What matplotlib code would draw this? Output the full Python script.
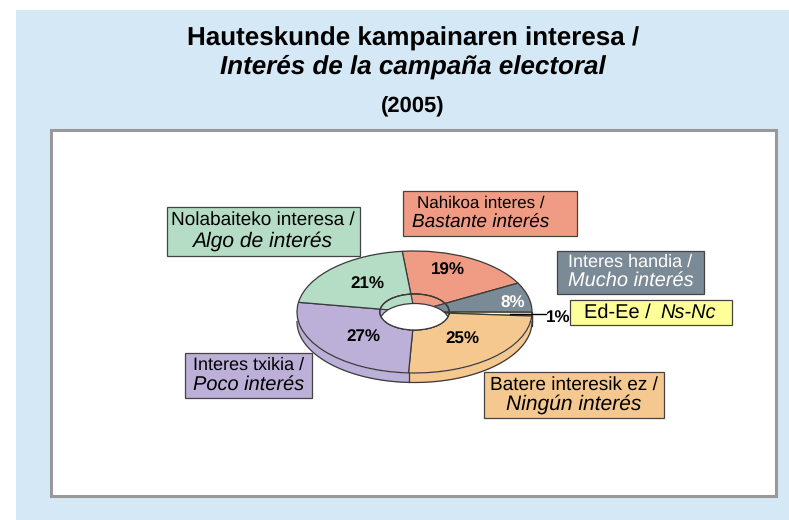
import numpy as np
import matplotlib
matplotlib.use("Agg")
import matplotlib.pyplot as plt
from matplotlib.patches import Circle, Rectangle

plt.rcParams["font.family"] = ["Liberation Sans", "DejaVu Sans"]
plt.rcParams["text.hinting"] = "none"
plt.rcParams["text.hinting_factor"] = 1

# values clockwise from the top of the ring
values = [19, 8, 1, 25, 27, 21]
colors = ["#F09C84", "#7A8A97", "#FFFF99", "#F5C88F", "#BCB0D8", "#B5DDC5"]
names_eu = ["Nahikoa interes /", "Interes handia /", "Ed-Ee / ", "Batere interesik ez /", "Interes txikia /", "Nolabaiteko interesa /"]
names_es = ["Bastante interés", "Mucho interés", "Ns-Nc", "Ningún interés", "Poco interés", "Algo de interés"]
title_eu = "Hauteskunde kampainaren interesa /"
title_es = "Interés de la campaña electoral"
year = "(2005)"

W, H = 789, 520
START = 96
EDGE = "#3a3a3a"
CX, CY, RX, RY = 414.5, 312, 117.5, 61
THICK = 9.5 / RY
HOLE = 0.295

fig = plt.figure(figsize=(W / 100, H / 100), dpi=100, facecolor="white")

# page, panel, titles
bg = fig.add_axes([0, 0, 1, 1])
bg.set_xlim(0, W)
bg.set_ylim(H, 0)
bg.axis("off")
bg.add_patch(Rectangle((16, 10), W - 16, H - 10, fc="#D5E8F5", ec="none"))
bg.add_patch(Rectangle((51.5, 129.5), 725, 366, fc="white", ec="#999999", lw=2.2))
bg.text(413, 39, title_eu, ha="center", va="center", fontsize=18.6, fontweight="bold", color="black")
bg.text(413, 67, title_es, ha="center", va="center", fontsize=18.6, fontweight="bold", style="italic", color="black")
bg.text(413, 107, year, ha="center", va="center", fontsize=15.5, fontweight="bold", color="black")

# ring axes: one data unit is RX px across and RY px down
span = 1.3
ring = fig.add_axes([(CX - span * RX) / W, 1 - (CY + span * RY) / H, 2 * span * RX / W, 2 * span * RY / H])
ring.patch.set_alpha(0)

# outer wall, front half only
angles = START - np.cumsum([0] + values) * 360 / sum(values)
for a0, a1, col in zip(angles[:-1], angles[1:], colors):
    lo, hi = max(a1, -180), min(a0, 0)
    if hi <= lo:
        continue
    t = np.radians(np.linspace(lo, hi, 80))
    ring.fill_between(np.cos(t), np.sin(t), np.sin(t) - THICK, color=col, lw=0, zorder=1)
    ring.plot(np.cos(t), np.sin(t) - THICK, color=EDGE, lw=0.9, zorder=2)
    if lo > -180:
        x = np.cos(np.radians(lo))
        y = np.sin(np.radians(lo))
        ring.plot([x, x], [y, y - THICK], color=EDGE, lw=0.9, zorder=2)

# top face
ring.pie(values, colors=colors, startangle=START, counterclock=False, radius=1,
         wedgeprops=dict(width=1 - HOLE, edgecolor=EDGE, linewidth=0.9, zorder=3))

# inner wall seen through the hole, then the hole itself
ring.pie(values, colors=colors, startangle=START, counterclock=False, radius=HOLE,
         wedgeprops=dict(edgecolor=EDGE, linewidth=0.8, zorder=3))
rim = Circle((0, 0), HOLE, fc="none", ec=EDGE, lw=0.9, zorder=5)
ring.add_patch(rim)
hole = Circle((0, -THICK), HOLE, fc="white", ec=EDGE, lw=0.9, zorder=4)
ring.add_patch(hole)
hole.set_clip_path(rim)

ring.set_aspect("auto")
ring.set_xlim(-span, span)
ring.set_ylim(-span, span)
ring.axis("off")

# labels on top
top = fig.add_axes([0, 0, 1, 1])
top.patch.set_alpha(0)
top.set_xlim(0, W)
top.set_ylim(H, 0)
top.axis("off")

pct_pos = [(448, 270), (513, 303), (558, 317), (462, 339), (363, 337), (367, 284)]
pct_col = ["black", "white", "black", "black", "black", "black"]
for v, (x, y), c in zip(values, pct_pos, pct_col):
    top.text(x, y, f"{v}%", ha="center", va="center", fontsize=12, fontweight="bold", color=c)
top.plot([510, 546], [314, 314], color="black", lw=1)

boxes = [(403, 191, 174, 45), (557, 251, 147, 43), (570, 300, 162, 25), (484, 372, 180, 46), (185, 353, 127, 45), (167, 207, 193, 49)]
text_dx = [-9, 0, 0, 0, 0, -1]
size_eu = [12.3, 13.3, 14.5, 13.6, 13.2, 13.4]
size_es = [14, 14.6, 14.5, 14.8, 14.6, 14.8]
for i, (x, y, w, h) in enumerate(boxes):
    top.add_patch(Rectangle((x, y), w, h, fc=colors[i], ec="#444444", lw=0.9))
    tc = "white" if i == 1 else "black"
    xm = x + w / 2 + text_dx[i]
    if i == 2:
        top.text(xm - 31, y + h / 2, names_eu[i], ha="center", va="center", fontsize=size_eu[i], color=tc)
        top.text(xm + 37, y + h / 2, names_es[i], ha="center", va="center", fontsize=size_es[i], style="italic", color=tc)
    else:
        top.text(xm, y + h * 0.27, names_eu[i], ha="center", va="center", fontsize=size_eu[i], color=tc)
        top.text(xm, y + h * 0.70, names_es[i], ha="center", va="center", fontsize=size_es[i], style="italic", color=tc)

fig.savefig("out.png", dpi=100)
